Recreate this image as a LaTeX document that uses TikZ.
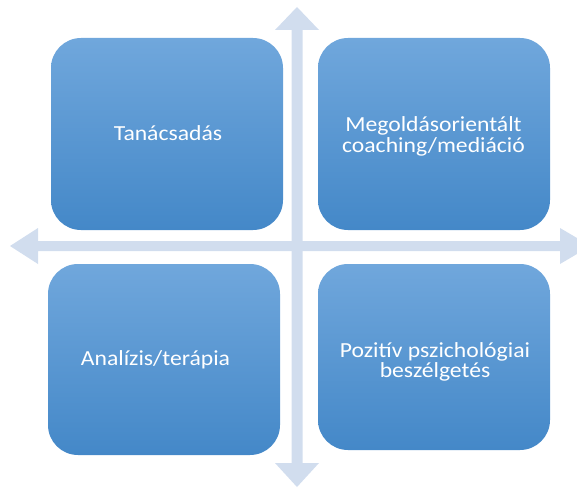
\documentclass[tikz,border=0pt]{standalone}
\usepackage{fontspec}
\setmainfont{Carlito}[FakeStretch=1.1]
\definecolor{boxtop}{RGB}{112,167,220}
\definecolor{boxbot}{RGB}{68,136,200}
\definecolor{arrowcol}{RGB}{209,221,238}
\begin{document}
\begin{tikzpicture}[x=1pt,y=-1pt,
  quad/.style={rounded corners=30pt, top color=boxtop, bottom color=boxbot, draw=none},
  qtext/.style={text=white, font=\fontsize{21.5}{20.5}\selectfont, align=center, inner sep=0pt},
  axis/.style={fill=arrowcol, draw=none}]
\useasboundingbox (0,0) rectangle (577,489);
% horizontal double arrow
\fill[axis] (10,246) -- (38,228) -- (38,241) -- (560,241) -- (560,228) -- (577,238) -- (577,254) -- (560,264) -- (560,251) -- (38,251) -- (38,264) -- cycle;
% vertical double arrow
\fill[axis] (297,7) -- (319,30) -- (302.5,30) -- (302.5,463) -- (319,463) -- (297,487) -- (275,463) -- (291.5,463) -- (291.5,30) -- (275,30) -- cycle;
% boxes
\path[quad] (51,38) rectangle (283,230);
\path[quad] (318,38) rectangle (550,230);
\path[quad] (48,264) rectangle (280,455);
\path[quad] (318,264) rectangle (550,450);
\node[qtext, anchor=base] (tl) at (168,140) {Tanácsadás};
\node[qtext] (tr) at (433.5,136.5) {Megoldásorientált\\coaching/mediáció};
\node[qtext, anchor=base] (bl) at (155.5,365) {Analízis/terápia};
\node[qtext] (br) at (435,362) {Pozitív pszichológiai\\beszélgetés};
\end{tikzpicture}
\end{document}
